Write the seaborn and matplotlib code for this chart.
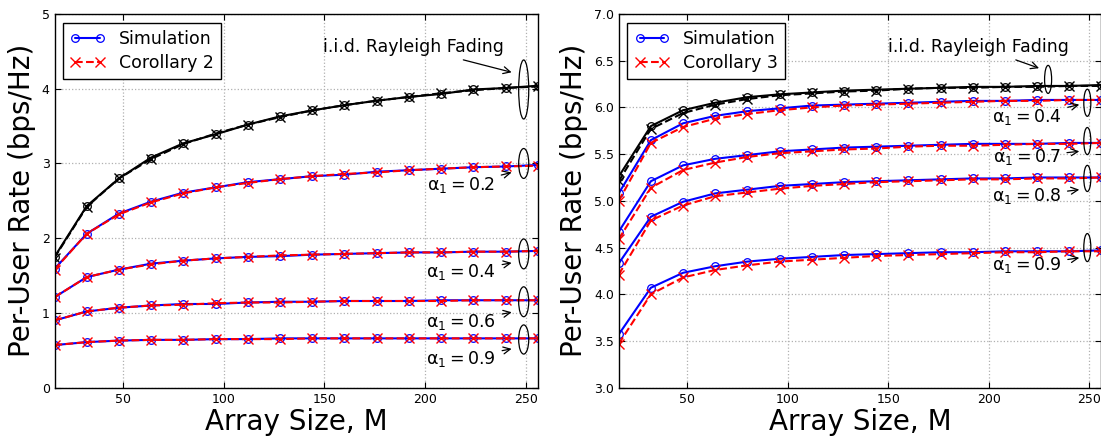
import numpy as np
import pandas as pd
import matplotlib
matplotlib.use("Agg")
import matplotlib.pyplot as plt
from matplotlib.patches import Ellipse
import seaborn as sns

# ---------------- data ----------------
M = [16, 32, 48, 64, 80, 96, 112, 128, 144, 160, 176, 192, 208, 224, 240, 256]

# left panel (Corollary 2)
L_iid_sim = [1.75, 2.43, 2.80, 3.08, 3.27, 3.39, 3.52, 3.63, 3.71, 3.78, 3.84, 3.89, 3.93, 3.99, 4.01, 4.04]
L_iid_cor = [1.74, 2.42, 2.80, 3.06, 3.26, 3.40, 3.52, 3.62, 3.71, 3.78, 3.84, 3.89, 3.94, 3.98, 4.01, 4.03]
L_a02_sim = [1.59, 2.06, 2.33, 2.49, 2.61, 2.68, 2.75, 2.79, 2.83, 2.85, 2.89, 2.91, 2.93, 2.95, 2.96, 2.98]
L_a02_cor = [1.58, 2.06, 2.32, 2.48, 2.60, 2.68, 2.74, 2.79, 2.83, 2.86, 2.88, 2.91, 2.93, 2.95, 2.96, 2.97]
L_a04_sim = [1.21, 1.48, 1.58, 1.66, 1.70, 1.73, 1.75, 1.76, 1.78, 1.79, 1.80, 1.81, 1.81, 1.82, 1.82, 1.83]
L_a04_cor = [1.21, 1.48, 1.58, 1.65, 1.70, 1.73, 1.75, 1.77, 1.78, 1.79, 1.80, 1.81, 1.81, 1.82, 1.82, 1.83]
L_a06_sim = [0.90, 1.02, 1.07, 1.10, 1.12, 1.12, 1.14, 1.15, 1.15, 1.16, 1.16, 1.16, 1.17, 1.17, 1.17, 1.17]
L_a06_cor = [0.90, 1.02, 1.07, 1.10, 1.11, 1.13, 1.14, 1.14, 1.15, 1.16, 1.16, 1.16, 1.16, 1.17, 1.17, 1.17]
L_a09_sim = [0.57, 0.61, 0.63, 0.64, 0.64, 0.65, 0.65, 0.66, 0.66, 0.66, 0.66, 0.66, 0.66, 0.66, 0.66, 0.66]
L_a09_cor = [0.57, 0.61, 0.63, 0.64, 0.64, 0.65, 0.65, 0.65, 0.66, 0.66, 0.66, 0.66, 0.66, 0.66, 0.66, 0.66]

# right panel (Corollary 3)
R_iid_sim = [5.26, 5.80, 5.97, 6.05, 6.11, 6.14, 6.16, 6.18, 6.19, 6.20, 6.21, 6.22, 6.22, 6.23, 6.23, 6.24]
R_iid_cor = [5.21, 5.77, 5.94, 6.03, 6.09, 6.13, 6.15, 6.17, 6.18, 6.20, 6.21, 6.21, 6.22, 6.22, 6.23, 6.23]
R_a04_sim = [5.08, 5.65, 5.83, 5.91, 5.96, 5.99, 6.02, 6.03, 6.04, 6.05, 6.06, 6.07, 6.07, 6.08, 6.08, 6.08]
R_a04_cor = [5.00, 5.62, 5.79, 5.88, 5.93, 5.97, 6.00, 6.02, 6.03, 6.04, 6.05, 6.06, 6.07, 6.07, 6.08, 6.08]
R_a07_sim = [4.67, 5.21, 5.38, 5.45, 5.49, 5.53, 5.55, 5.57, 5.58, 5.59, 5.60, 5.61, 5.61, 5.61, 5.62, 5.62]
R_a07_cor = [4.59, 5.14, 5.33, 5.41, 5.47, 5.51, 5.53, 5.55, 5.56, 5.58, 5.59, 5.59, 5.60, 5.61, 5.61, 5.62]
R_a08_sim = [4.33, 4.83, 4.99, 5.08, 5.12, 5.16, 5.18, 5.20, 5.21, 5.22, 5.23, 5.24, 5.24, 5.25, 5.25, 5.25]
R_a08_cor = [4.21, 4.79, 4.95, 5.05, 5.09, 5.13, 5.16, 5.18, 5.20, 5.21, 5.22, 5.23, 5.23, 5.24, 5.24, 5.25]
R_a09_sim = [3.57, 4.07, 4.23, 4.30, 4.35, 4.38, 4.40, 4.42, 4.43, 4.44, 4.45, 4.45, 4.46, 4.46, 4.46, 4.47]
R_a09_cor = [3.47, 4.00, 4.18, 4.26, 4.31, 4.35, 4.37, 4.39, 4.41, 4.42, 4.43, 4.44, 4.45, 4.45, 4.46, 4.46]

LEFT_YTICKS = [0, 1, 2, 3, 4, 5]
RIGHT_YTICKS = [3.0, 3.5, 4.0, 4.5, 5.0, 5.5, 6.0, 6.5, 7.0]
XTICKS = [50, 100, 150, 200, 250]

# ---------------- style ----------------
sns.set_style("white")
plt.rcParams.update({
    "font.family": ["DejaVu Sans"],
    "mathtext.fontset": "dejavusans",
    "text.color": "black",
    "axes.labelcolor": "black",
    "xtick.direction": "in",
    "ytick.direction": "in",
    "xtick.top": True,
    "ytick.right": True,
    "xtick.bottom": True,
    "ytick.left": True,
    "xtick.major.size": 4,
    "ytick.major.size": 4,
    "xtick.major.width": 0.8,
    "ytick.major.width": 0.8,
    "xtick.labelsize": 9,
    "ytick.labelsize": 9,
    "xtick.color": "black",
    "ytick.color": "black",
    "axes.edgecolor": "black",
    "axes.linewidth": 1.0,
})

W, H = 1101, 436
fig = plt.figure(figsize=(W / 100, H / 100), dpi=100)
bot, top = 387.7, 14.0
ax1 = fig.add_axes([54.5 / W, 1 - bot / H, (537.8 - 54.5) / W, (bot - top) / H])
ax2 = fig.add_axes([618.7 / W, 1 - bot / H, (1101.4 - 618.7) / W, (bot - top) / H])


def draw(ax, x, sim, cor, sim_color, cor_color, label=False, cor_name=""):
    df = pd.DataFrame({"M": x, "sim": sim, "cor": cor})
    sns.lineplot(data=df, x="M", y="sim", ax=ax, color=sim_color, lw=1.5,
                 marker="o", ms=5.5, mfc="none", mec=sim_color, mew=0.9,
                 label="Simulation" if label else None, legend=False)
    sns.lineplot(data=df, x="M", y="cor", ax=ax, color=cor_color, lw=1.5,
                 linestyle="--", dashes=False, marker="x", ms=6.5, mec=cor_color, mew=1.0,
                 label=cor_name if label else None, legend=False)


# left panel
draw(ax1, M, L_iid_sim, L_iid_cor, "black", "black")
draw(ax1, M, L_a02_sim, L_a02_cor, "blue", "red", label=True, cor_name="Corollary 2")
draw(ax1, M, L_a04_sim, L_a04_cor, "blue", "red")
draw(ax1, M, L_a06_sim, L_a06_cor, "blue", "red")
draw(ax1, M, L_a09_sim, L_a09_cor, "blue", "red")

# right panel
draw(ax2, M, R_iid_sim, R_iid_cor, "black", "black")
draw(ax2, M, R_a04_sim, R_a04_cor, "blue", "red", label=True, cor_name="Corollary 3")
draw(ax2, M, R_a07_sim, R_a07_cor, "blue", "red")
draw(ax2, M, R_a08_sim, R_a08_cor, "blue", "red")
draw(ax2, M, R_a09_sim, R_a09_cor, "blue", "red")

for ax, yt, ylim, fmt in [(ax1, LEFT_YTICKS, (0, 5), "{:.0f}"), (ax2, RIGHT_YTICKS, (3.0, 7.0), "{:.1f}")]:
    ax.set_xlim(16, 256)
    ax.set_ylim(*ylim)
    ax.set_xticks(XTICKS)
    ax.set_yticks(yt)
    ax.set_yticklabels([fmt.format(v) for v in yt])
    ax.grid(True, linestyle=":", color="#b0b0b0", linewidth=0.9)
    ax.set_xlabel("Array Size, M", fontsize=20, labelpad=2, color="black")
    ax.set_ylabel("Per-User Rate (bps/Hz)", fontsize=20, labelpad=4, color="black")
    for s in ax.spines.values():
        s.set_visible(True)
        s.set_color("black")
    leg = ax.legend(loc="upper left", fontsize=12.5, frameon=True, fancybox=False,
                    edgecolor="black", framealpha=1, handlelength=2.0, numpoints=2,
                    borderaxespad=0.5, handletextpad=0.8, labelspacing=0.35)
    leg.get_frame().set_linewidth(1.0)
    for t in leg.get_texts():
        t.set_color("black")

arrow = dict(arrowstyle="->", color="black", lw=0.9, shrinkA=2, shrinkB=0)
tfs = 12.5


def alab(v):
    return r"$\mathrm{\alpha}_1 = " + v + "$"


# left annotations
ax1.annotate("i.i.d. Rayleigh Fading", xy=(243, 4.22), xytext=(194, 4.56),
             ha="center", va="center", fontsize=tfs, arrowprops=arrow)
for yc, h in [(3.99, 0.79), (3.0, 0.4), (1.79, 0.4), (1.15, 0.4), (0.645, 0.39)]:
    ax1.add_patch(Ellipse((249, yc), 5.0, h, fill=False, edgecolor="black", lw=0.9, zorder=5))
for lab, ty, hy in [("0.2", 2.71, 2.88), ("0.4", 1.55, 1.67), ("0.6", 0.88, 1.01), ("0.9", 0.39, 0.52)]:
    ax1.annotate(alab(lab), xy=(243, hy), xytext=(218, ty),
                 ha="center", va="center", fontsize=tfs, arrowprops=arrow)

# right annotations
ax2.annotate("i.i.d. Rayleigh Fading", xy=(225, 6.42), xytext=(195, 6.65),
             ha="center", va="center", fontsize=tfs, arrowprops=arrow)
ax2.add_patch(Ellipse((229.5, 6.30), 3.5, 0.30, fill=False, edgecolor="black", lw=0.9, zorder=5))
for yc, h in [(6.05, 0.29), (5.64, 0.29), (5.24, 0.28), (4.5, 0.30)]:
    ax2.add_patch(Ellipse((249, yc), 3.5, h, fill=False, edgecolor="black", lw=0.9, zorder=5))
for lab, ty, hy in [("0.4", 5.90, 6.03), ("0.7", 5.47, 5.53), ("0.8", 5.05, 5.12), ("0.9", 4.31, 4.39)]:
    ax2.annotate(alab(lab), xy=(245, hy), xytext=(219, ty),
                 ha="center", va="center", fontsize=tfs, arrowprops=arrow)

fig.savefig("out.png", dpi=100)
